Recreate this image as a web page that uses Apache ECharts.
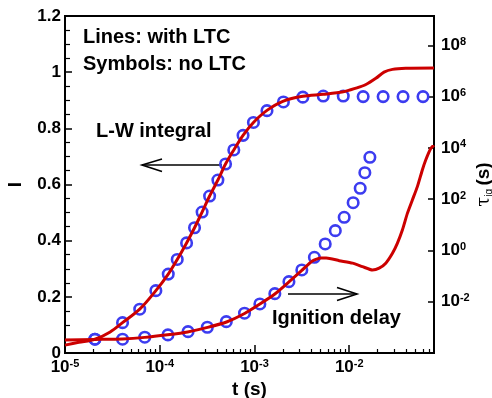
<!DOCTYPE html>
<html>
<head>
<meta charset="utf-8">
<script src="https://cdn.jsdelivr.net/npm/echarts@6/dist/echarts.min.js"></script>
<style>
html, body { margin: 0; padding: 0; background: #fff; }
#main { width: 492px; height: 398px; }
</style>
</head>
<body>
<div id="main"></div>
<script>
// L-W integral, symbols = no LTC
var lwSymT = [2.07e-5, 4.05e-5, 6.15e-5, 9.1e-5, 1.23e-4, 1.53e-4, 1.92e-4, 2.33e-4, 2.8e-4, 3.36e-4, 4.11e-4, 4.95e-4,
    6.05e-4, 7.57e-4, 9.75e-4, 1.355e-3, 2.02e-3, 3.24e-3, 5.32e-3, 8.65e-3, 0.01403, 0.0228, 0.037, 0.0601];
var lwSymI = [0.049, 0.108, 0.156, 0.222, 0.281, 0.333, 0.392, 0.446, 0.502, 0.559, 0.616, 0.673,
    0.723, 0.775, 0.821, 0.863, 0.894, 0.911, 0.915, 0.915, 0.913, 0.913, 0.913, 0.913];
// L-W integral, line = with LTC
var lwLineT = [1e-5, 1.4e-5, 2.07e-5, 3e-5, 4.05e-5, 6.15e-5, 9.1e-5, 1.23e-4, 1.53e-4, 1.92e-4, 2.33e-4, 2.8e-4,
    3.36e-4, 4.11e-4, 4.95e-4, 6.05e-4, 7.57e-4, 9.75e-4, 1.355e-3, 2.02e-3, 3.24e-3, 5.32e-3, 8.65e-3,
    0.01175, 0.015, 0.0191, 0.0233, 0.0286, 0.0395, 0.0785];
var lwLineI = [0.028, 0.038, 0.049, 0.075, 0.108, 0.156, 0.222, 0.281, 0.333, 0.392, 0.446, 0.502,
    0.559, 0.616, 0.673, 0.723, 0.775, 0.821, 0.864, 0.897, 0.914, 0.921, 0.93,
    0.943, 0.956, 0.978, 1.0, 1.01, 1.014, 1.015];
// ignition delay, symbols = no LTC
var igSymT = [2.07e-5, 4.05e-5, 6.95e-5, 1.22e-4, 1.99e-4, 3.18e-4, 5.04e-4, 7.85e-4, 1.14e-3, 1.64e-3,
    2.31e-3, 3.16e-3, 4.29e-3, 5.58e-3, 7.13e-3, 8.85e-3, 0.011, 0.01306, 0.01462, 0.01652];
var igSymTau = [3.45e-4, 3.45e-4, 4.13e-4, 5.08e-4, 6.82e-4, 1.01e-3, 1.67e-3, 3.56e-3, 8.2e-3, 0.0207,
    0.0608, 0.174, 0.543, 1.79, 5.92, 19.7, 73.1, 266, 1079, 4305];
// ignition delay, line = with LTC
var igLineT = [1e-5, 2.07e-5, 4.05e-5, 6.95e-5, 1.21e-4, 1.97e-4, 3.2e-4, 5.07e-4, 7.85e-4, 1.14e-3, 1.64e-3,
    2.31e-3, 3.16e-3, 4.08e-3, 5.04e-3, 5.73e-3, 7.85e-3, 0.01084, 0.0138, 0.01759, 0.0207, 0.0243,
    0.0286, 0.0322, 0.0364, 0.0411, 0.0464, 0.0524, 0.0591, 0.0642, 0.0725, 0.0785];
var igLineTau = [3.24e-4, 3.39e-4, 3.55e-4, 4.07e-4, 5.13e-4, 6.6e-4, 1e-3, 1.62e-3, 3.47e-3, 8.1e-3, 0.02,
    0.059, 0.166, 0.39, 0.51, 0.51, 0.4, 0.32, 0.234, 0.174, 0.204, 0.32,
    0.78, 1.9, 6.3, 28, 93, 309, 1380, 3390, 9550, 12900];
// minor ticks of the t axis
var minorTicksT = [2e-5, 3e-5, 4e-5, 5e-5, 6e-5, 7e-5, 8e-5, 9e-5,
    2e-4, 3e-4, 4e-4, 5e-4, 6e-4, 7e-4, 8e-4, 9e-4,
    2e-3, 3e-3, 4e-3, 5e-3, 6e-3, 7e-3, 8e-3, 9e-3,
    0.02, 0.03, 0.04, 0.05, 0.06, 0.07];

var FONT = 'Liberation Sans';
var BLUE = '#3c3cf0';
var RED = '#cc0000';
var T_MIN = 1e-5, T_MAX = 0.0785;

function pairs(xs, ys) {
    var out = [];
    for (var i = 0; i < xs.length; i++) out.push([xs[i], ys[i]]);
    return out;
}

// 10^n labels
function powLabel(v) {
    var e = Math.log10(v);
    if (Math.abs(e - Math.round(e)) > 1e-6) return '';
    return '{b|10}{s|' + Math.round(e) + '}';
}
var powRich = {
    b: { fontSize: 17, fontWeight: 'bold', fontFamily: FONT, color: '#000', lineHeight: 18 },
    s: { fontSize: 11, fontWeight: 'bold', fontFamily: FONT, color: '#000', lineHeight: 12, verticalAlign: 'top' }
};
var textFont = 'bold 20px "Liberation Sans"';

var myChart = echarts.init(document.getElementById('main'));

var option = {
    animation: false,
    grid: [
        { left: 65, right: 58, top: 16, bottom: 45, outerBoundsMode: 'none', show: true, borderColor: '#000', borderWidth: 2 },
        // 次刻度用
        { left: 65, right: 58, top: 16, bottom: 45, outerBoundsMode: 'none', show: false }
    ],
    xAxis: [
        {
            type: 'log', logBase: 10, min: T_MIN, max: T_MAX, gridIndex: 0,
            name: 't (s)', nameLocation: 'middle', nameGap: 27, nameMoveOverlap: false,
            nameTextStyle: { fontSize: 19, fontWeight: 'bold', fontFamily: FONT, color: '#000' },
            axisLine: { lineStyle: { color: '#000', width: 2 } },
            axisTick: { inside: true, length: 8, lineStyle: { color: '#000', width: 1.5 } },
            axisLabel: { margin: 5, formatter: powLabel, rich: powRich },
            splitLine: { show: false }
        },
        {
            type: 'log', logBase: 10, min: T_MIN, max: T_MAX, gridIndex: 1, position: 'bottom',
            axisLine: { show: false },
            axisTick: { show: true, inside: true, length: 4, customValues: minorTicksT, lineStyle: { color: '#000', width: 1.2 } },
            axisLabel: { show: false },
            splitLine: { show: false }
        }
    ],
    yAxis: [
        {
            type: 'value', min: 0, max: 1.2, interval: 0.2, gridIndex: 0,
            name: 'I', nameLocation: 'middle', nameGap: 40, nameMoveOverlap: false,
            nameTextStyle: { fontSize: 19, fontWeight: 'bold', fontFamily: FONT, color: '#000' },
            axisLine: { show: true, lineStyle: { color: '#000', width: 2 } },
            axisTick: { inside: true, length: 7, lineStyle: { color: '#000', width: 1.5 } },
            minorTick: { show: true, splitNumber: 4, length: 5, lineStyle: { color: '#000', width: 1.2 } },
            axisLabel: { margin: 4, fontSize: 17, fontWeight: 'bold', fontFamily: FONT, color: '#000' },
            splitLine: { show: false }
        },
        {
            type: 'log', logBase: 100, min: 1e-4, max: 1.4e9, position: 'right', gridIndex: 0,
            name: '{t|τ}{i|ig} {u|(s)}', nameLocation: 'middle', nameGap: 40, nameMoveOverlap: false,
            nameTextStyle: {
                rich: {
                    t: { fontSize: 18, fontFamily: 'DejaVu Serif', color: '#000', lineHeight: 20 },
                    i: { fontSize: 10, fontFamily: FONT, color: '#000', lineHeight: 10, verticalAlign: 'bottom' },
                    u: { fontSize: 19, fontWeight: 'bold', fontFamily: FONT, color: '#000', lineHeight: 20 }
                }
            },
            axisLine: { show: true, lineStyle: { color: '#000', width: 2 } },
            axisTick: { inside: true, length: 6, lineStyle: { color: '#000', width: 1.5 } },
            axisLabel: { margin: 7, showMinLabel: false, formatter: powLabel, rich: powRich },
            splitLine: { show: false }
        },
        { type: 'value', min: 0, max: 1, gridIndex: 1, show: false }
    ],
    graphic: [
        { type: 'text', x: 83, y: 37, style: { text: 'Lines: with LTC', font: textFont, fill: '#000', align: 'left', verticalAlign: 'middle' } },
        { type: 'text', x: 83, y: 64, style: { text: 'Symbols: no LTC', font: textFont, fill: '#000', align: 'left', verticalAlign: 'middle' } },
        { type: 'text', x: 96, y: 131.5, style: { text: 'L-W integral', font: textFont, fill: '#000', align: 'left', verticalAlign: 'middle' } },
        { type: 'text', x: 272, y: 318, style: { text: 'Ignition delay', font: textFont, fill: '#000', align: 'left', verticalAlign: 'middle' } },
        //箭头
        { type: 'line', shape: { x1: 142, y1: 165, x2: 222, y2: 165 }, style: { stroke: '#000', lineWidth: 1.6 } },
        { type: 'polyline', shape: { points: [[162, 159], [142, 165], [162, 171.5]] }, style: { stroke: '#000', lineWidth: 1.6, fill: null } },
        { type: 'line', shape: { x1: 288, y1: 294, x2: 357, y2: 294 }, style: { stroke: '#000', lineWidth: 1.6 } },
        { type: 'polyline', shape: { points: [[337, 287.5], [357, 294], [337, 300.5]] }, style: { stroke: '#000', lineWidth: 1.6, fill: null } }
    ],
    series: [
        {
            name: 'L-W LTC', type: 'line', xAxisIndex: 0, yAxisIndex: 0,
            data: pairs(lwLineT, lwLineI), showSymbol: false, smooth: 0.3,
            lineStyle: { color: RED, width: 3 }
        },
        {
            name: 'ignition LTC', type: 'line', xAxisIndex: 0, yAxisIndex: 1,
            data: pairs(igLineT, igLineTau), showSymbol: false, smooth: 0.2,
            lineStyle: { color: RED, width: 3 }
        },
        {
            name: 'L-W no LTC', type: 'scatter', xAxisIndex: 0, yAxisIndex: 0,
            data: pairs(lwSymT, lwSymI), symbol: 'circle', symbolSize: 10.5,
            itemStyle: { color: 'rgba(0,0,0,0)', borderColor: BLUE, borderWidth: 2.6, opacity: 1 }
        },
        {
            name: 'ignition no LTC', type: 'scatter', xAxisIndex: 0, yAxisIndex: 1,
            data: pairs(igSymT, igSymTau), symbol: 'circle', symbolSize: 10.5,
            itemStyle: { color: 'rgba(0,0,0,0)', borderColor: BLUE, borderWidth: 2.6, opacity: 1 }
        }
    ]
};
myChart.setOption(option);
</script>
</body>
</html>
